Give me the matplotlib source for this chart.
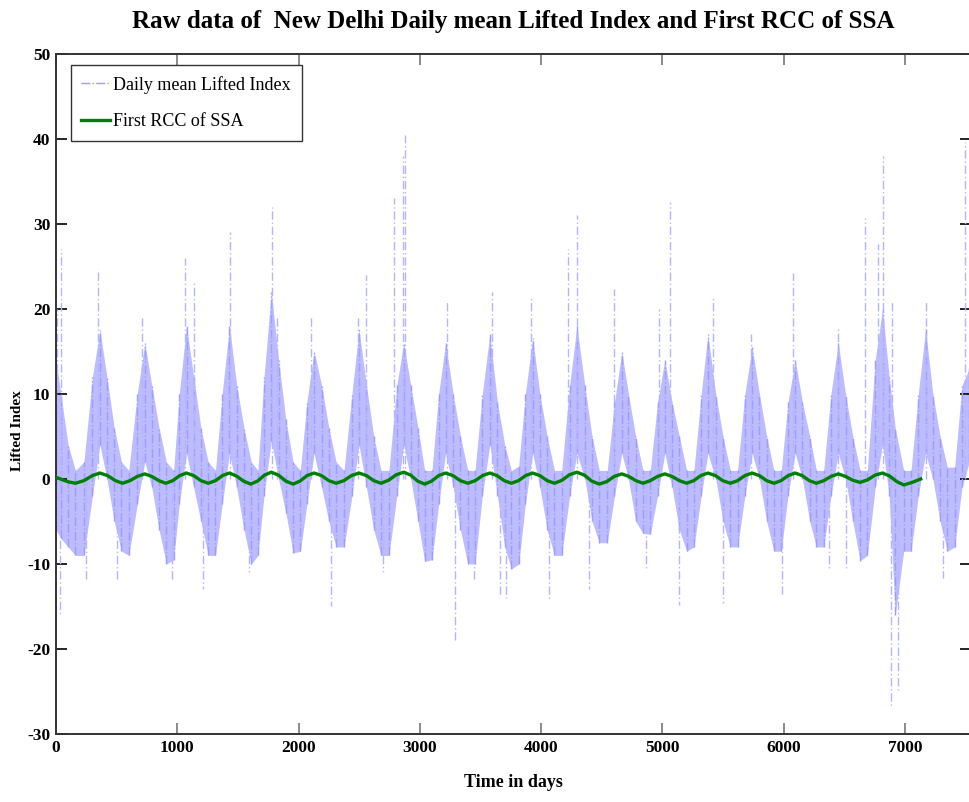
"""New Delhi daily mean Lifted Index with the first RCC of SSA overlaid."""

import matplotlib
matplotlib.use("Agg")
import matplotlib.pyplot as plt
import numpy as np

# ---- raw series (lower / upper edge) -------
band_day = [
    0, 40, 100, 160, 230, 300,
    362, 420, 480, 540, 600, 670,
    732, 790, 850, 910, 970, 1016,
    1076, 1135, 1195, 1255, 1315, 1370,
    1430, 1490, 1550, 1610, 1665, 1715,
    1775, 1835, 1895, 1955, 2015, 2068,
    2128, 2190, 2250, 2310, 2375, 2440,
    2498, 2560, 2620, 2680, 2745, 2810,
    2867, 2925, 2985, 3040, 3100, 3155,
    3212, 3275, 3335, 3395, 3455, 3515,
    3577, 3640, 3700, 3755, 3815, 3870,
    3930, 3990, 4050, 4110, 4170, 4235,
    4295, 4360, 4420, 4480, 4545, 4605,
    4665, 4720, 4780, 4840, 4900, 4960,
    5020, 5080, 5140, 5200, 5260, 5320,
    5375, 5440, 5500, 5560, 5620, 5680,
    5740, 5800, 5860, 5920, 5980, 6035,
    6095, 6155, 6215, 6270, 6330, 6390,
    6450, 6510, 6570, 6630, 6690, 6755,
    6815, 6870, 6920, 6990, 7050, 7110,
    7170, 7230, 7290, 7350, 7410, 7470, 7530,
]
band_lo = [
    -6, -7, -8, -9, -9, -2,
    4, 0, -5, -8.5, -9, -3,
    2, -1, -6, -10, -9.5, -3,
    3, -1, -5, -9, -9, -3,
    3, -1, -6, -10, -9, -2,
    4.5, 0, -4, -8.7, -8.5, -3,
    3, -1, -5, -8, -8, -2,
    4, -1, -6, -9, -9, -2,
    4, 0, -5, -9.7, -9.5, -3,
    3, -1, -6, -10, -10, -2,
    4, -2, -8, -10.6, -10, -3,
    3, -1, -6, -9, -9, -2,
    3, 0, -5, -7.5, -7.5, -2,
    3, 0, -5, -6.4, -6.5, -2,
    3, -1, -6, -8.5, -8, -2,
    3, 0, -5, -8, -8, -2,
    3, 0, -5, -8.5, -8.5, -2,
    3, 0, -5, -8, -8, -2,
    3, 0, -5, -9.6, -9, -1,
    4, -2, -16, -8.5, -8.5, -2,
    3, 0, -5, -8.5, -8, -1, 2,
]
band_hi = [
    14, 10, 4, 1, 2, 12,
    17.5, 12, 6, 2, 1, 10,
    16, 11, 6, 2, 1, 10,
    18, 12, 6, 2, 1, 10,
    18, 11, 6, 2, 1, 12,
    22, 14, 7, 2, 1, 9,
    15, 11, 6, 2, 1, 10,
    17.6, 11, 5, 1, 1, 11,
    16, 11, 6, 1, 1, 10,
    16, 10, 5, 1, 1, 10,
    17, 9, 4, 1, 1.5, 10,
    16.6, 10, 5, 1, 1, 11,
    18, 11, 5, 1, 1, 9,
    15, 10, 5, 1, 1, 9,
    14, 9, 5, 1, 1, 10,
    17, 10, 5, 1, 1, 10,
    15.5, 10, 5, 1, 1, 9,
    14, 9, 5, 1, 1, 10,
    16, 10, 5, 1, 1, 14,
    20, 12, 6, 1, 1, 10,
    17.6, 10, 5, 1.4, 1.4, 11, 13,
]

# isolated daily extremes sticking out of the band
spike_day = [
    10, 40, 345, 705, 1060, 1140, 1436, 1780, 1820, 2100, 2490, 2560,
    2790, 2860, 2880, 3227, 3597, 3916, 4220, 4300, 4600, 4970, 5065,
    5420, 5730, 6080, 6450, 6670, 6780, 6820, 6890, 7175, 7495,
    30, 248, 500, 960, 1215, 1590, 2270, 2700, 3290, 3450, 3665, 3710,
    4065, 4395, 4865, 5140, 5500, 5990, 6370, 6510, 6885, 6940, 7310,
]
spike_val = [
    20, 27, 24.7, 19, 26, 23, 29, 32, 19, 19, 19, 24,
    33, 38, 40.5, 21, 22, 21.3, 27, 31, 22.4, 20, 32.6,
    21.3, 17, 24.2, 17.6, 30.7, 27.6, 38, 20.8, 20.8, 39.6,
    -16, -12, -12, -12, -13, -11, -15, -11, -19, -12, -13.8, -14,
    -14.3, -13, -10.6, -14.8, -14.6, -13.5, -10.6, -10.6, -26.9, -24.8, -11.7,
]

# ---- first reconstructed component: trough, rise x2, peak, fall x2 --------
rcc_day = [
    0, 55, 105,
    160, 230, 300, 362, 425, 490,
    548, 610, 670, 732, 790, 848,
    905, 962, 1020, 1076, 1135, 1195,
    1255, 1315, 1372, 1430, 1488, 1546,
    1605, 1662, 1718, 1775, 1835, 1895,
    1955, 2012, 2070, 2128, 2190, 2250,
    2310, 2373, 2436, 2498, 2560, 2620,
    2680, 2742, 2805, 2867, 2925, 2982,
    3040, 3097, 3155, 3212, 3273, 3334,
    3395, 3456, 3517, 3577, 3636, 3696,
    3755, 3813, 3872, 3930, 3990, 4050,
    4110, 4172, 4234, 4295, 4357, 4418,
    4480, 4542, 4603, 4665, 4723, 4782,
    4840, 4900, 4960, 5020, 5080, 5140,
    5200, 5258, 5317, 5375, 5437, 5498,
    5560, 5620, 5680, 5740, 5800, 5860,
    5920, 5978, 6037, 6095, 6153, 6212,
    6270, 6330, 6390, 6450, 6510, 6570,
    6630, 6692, 6753, 6815, 6873, 6932,
    6990, 7060, 7130,
]
rcc_val = [
    0.2, -0.1, -0.35,
    -0.5, -0.2, 0.4, 0.7, 0.4, -0.2,
    -0.5, -0.2, 0.3, 0.6, 0.3, -0.2,
    -0.5, -0.2, 0.4, 0.7, 0.4, -0.2,
    -0.5, -0.2, 0.4, 0.7, 0.35, -0.25,
    -0.6, -0.25, 0.45, 0.8, 0.45, -0.25,
    -0.6, -0.25, 0.4, 0.7, 0.4, -0.2,
    -0.5, -0.2, 0.4, 0.7, 0.4, -0.2,
    -0.5, -0.15, 0.5, 0.8, 0.45, -0.25,
    -0.6, -0.25, 0.4, 0.7, 0.4, -0.2,
    -0.5, -0.2, 0.4, 0.7, 0.4, -0.2,
    -0.5, -0.2, 0.4, 0.7, 0.4, -0.2,
    -0.5, -0.15, 0.5, 0.8, 0.45, -0.25,
    -0.6, -0.3, 0.3, 0.6, 0.3, -0.2,
    -0.5, -0.2, 0.3, 0.6, 0.3, -0.2,
    -0.5, -0.2, 0.4, 0.7, 0.4, -0.2,
    -0.5, -0.2, 0.4, 0.7, 0.4, -0.2,
    -0.5, -0.2, 0.4, 0.7, 0.4, -0.2,
    -0.5, -0.2, 0.3, 0.6, 0.3, -0.15,
    -0.4, -0.1, 0.45, 0.7, 0.35, -0.3,
    -0.7, -0.4, 0.0,
]

x_ticks = [0, 1000, 2000, 3000, 4000, 5000, 6000, 7000]
y_ticks = [-30, -20, -10, 0, 10, 20, 30, 40, 50]

RAW = "#9d9dff"
RCC = "#008000"
SERIF = "Liberation Serif"


def main() -> None:
    plt.rcParams["axes.unicode_minus"] = False
    fig = plt.figure(figsize=(9.69, 8.02), dpi=100)
    ax = fig.add_axes([0.0578, 0.0848, 0.9443, 0.8479])

    day = np.asarray(band_day)
    lo = np.asarray(band_lo)
    hi = np.asarray(band_hi)

    # dense daily band: a pale fill plus dash-dot strokes for texture
    ax.fill_between(day, lo, hi, color="#bcbcff", lw=0, zorder=1)
    ax.vlines(day, lo, hi, colors=RAW, lw=1.0, linestyles="dashdot", zorder=2)
    ax.vlines(spike_day, 0, spike_val, colors="#b4b4ff", lw=1.0,
              linestyles=(0, (6, 2, 1, 2)), zorder=2)

    ax.plot(rcc_day, rcc_val, color=RCC, lw=2.4, zorder=4)

    # legend proxies (MATLAB look)
    raw_proxy, = ax.plot([], [], color=RAW, lw=1.0, ls="-.")
    rcc_proxy, = ax.plot([], [], color=RCC, lw=2.4)
    leg = ax.legend([raw_proxy, rcc_proxy],
                    ["Daily mean Lifted Index", "First RCC of SSA"],
                    loc="upper left", bbox_to_anchor=(0.016, 0.984),
                    borderaxespad=0, frameon=True, fancybox=False,
                    handlelength=1.6, handletextpad=0.15, labelspacing=1.1,
                    borderpad=0.6, prop={"family": SERIF, "size": 13})
    leg.get_frame().set_edgecolor("black")
    leg.get_frame().set_linewidth(1.0)

    ax.set_xlim(0, 7545)
    ax.set_ylim(-30, 50)
    ax.set_xticks(x_ticks)
    ax.set_yticks(y_ticks)
    ax.tick_params(direction="in", length=8, width=1.2, top=True, right=True,
                   labelsize=12.5, pad=4)
    ax.tick_params(axis="x", colors="#777777", labelcolor="black")
    for lab in ax.get_xticklabels() + ax.get_yticklabels():
        lab.set_family(SERIF)
        lab.set_weight("bold")
    for sp in ax.spines.values():
        sp.set_linewidth(1.4)
        sp.set_color("#333333")

    ax.set_xlabel("Time in days", family=SERIF, weight="bold", fontsize=13,
                  labelpad=13)
    ax.set_ylabel("Lifted Index", family=SERIF, weight="bold", fontsize=11)
    ax.yaxis.set_label_coords(-0.035, 0.446)
    ax.set_title("Raw data of  New Delhi Daily mean Lifted Index and First RCC of SSA",
                 family=SERIF, weight="bold", fontsize=18, pad=19)

    fig.savefig("out.png", dpi=100)


if __name__ == "__main__":
    main()
